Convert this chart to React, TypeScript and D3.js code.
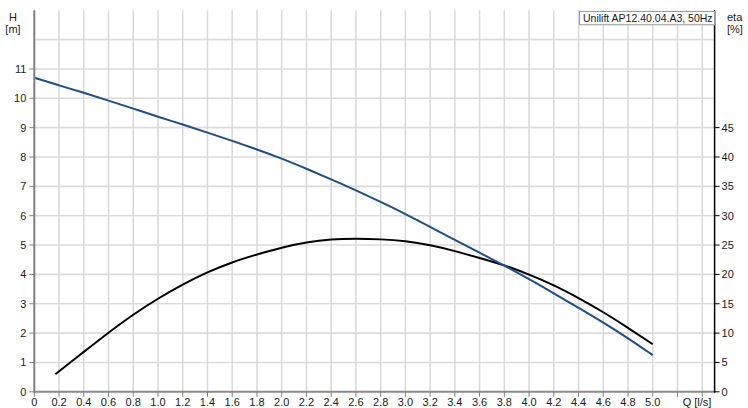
import * as d3 from "d3";

const W = 748;
const H = 408;

// flow [l/s]
const qHead = [0, 0.2, 0.4, 0.6, 0.8, 1.0, 1.2, 1.4, 1.6, 1.8, 2.0, 2.2, 2.4, 2.6, 2.8, 3.0, 3.2, 3.4, 3.6, 3.8, 4.0, 4.2, 4.4, 4.6, 4.8, 5.0];
// head [m]
const head = [10.7, 10.44, 10.19, 9.92, 9.65, 9.37, 9.11, 8.83, 8.55, 8.26, 7.95, 7.6, 7.24, 6.87, 6.47, 6.06, 5.62, 5.17, 4.74, 4.3, 3.84, 3.36, 2.86, 2.36, 1.83, 1.25];

const qEta = [0.17, 0.4, 0.6, 0.8, 1.0, 1.2, 1.4, 1.6, 1.8, 2.0, 2.2, 2.4, 2.6, 2.8, 3.0, 3.2, 3.4, 3.6, 3.8, 4.0, 4.2, 4.4, 4.6, 4.8, 5.0];
// efficiency [%]
const eta = [3.0, 6.8, 10.1, 13.2, 15.9, 18.3, 20.4, 22.1, 23.4, 24.6, 25.5, 26.0, 26.1, 26.0, 25.7, 25.0, 24.0, 22.8, 21.6, 20.0, 18.2, 16.0, 13.6, 10.9, 8.1];

const xTicks = d3.range(0, 28).map((i) => +(i * 0.2).toFixed(1)); // 0 .. 5.4
const xLabels = xTicks.filter((v) => v <= 5.0);
const hTicks = d3.range(0, 12); // 0..11
const hGrid = d3.range(1, 13);
const etaTicks = d3.range(0, 50, 5); // 0..45

const pumpName = "Unilift AP12.40.04.A3, 50Hz";

const FONT = "'Liberation Sans', Arial, sans-serif";
const TEXT = "#1a1a1a";

export default function App() {
  const left = 34.3;
  const right = 714.6;
  const bottom = 391.8;
  const top = bottom - 13 * 29.35;

  const x = d3.scaleLinear().domain([0, 5.5]).range([left, right]);
  const yH = d3.scaleLinear().domain([0, 13]).range([bottom, top]);
  const yEta = d3.scaleLinear().domain([0, 65]).range([bottom, top]);

  // smooth through the read-off points
  const headLine = d3
    .line<number>()
    .x((_, i) => x(qHead[i]))
    .y((d) => yH(d))
    .curve(d3.curveBasis)(head);
  const etaLine = d3
    .line<number>()
    .x((_, i) => x(qEta[i]))
    .y((d) => yEta(d))
    .curve(d3.curveBasis)(eta);

  return (
    <svg
      width={W}
      height={H}
      viewBox={`0 0 ${W} ${H}`}
      style={{ position: "absolute", left: 0, top: 0, background: "#fff" }}
      fontFamily={FONT}
    >
      {/* grid */}
      <g stroke="#dadada" strokeWidth={1.6}>
        {xTicks
          .filter((v) => v > 0)
          .map((v) => (
            <line key={"gx" + v} x1={x(v)} x2={x(v)} y1={top} y2={bottom} />
          ))}
        {hGrid.map((v) => (
          <line key={"gy" + v} x1={left} x2={right} y1={yH(v)} y2={yH(v)} />
        ))}
      </g>

      {/* curves */}
      <path d={etaLine ?? ""} fill="none" stroke="#000" strokeWidth={2} />
      <path d={headLine ?? ""} fill="none" stroke="#1b4f8a" strokeWidth={2} />

      {/* left axis */}
      <line x1={left} x2={left} y1={top} y2={bottom + 1} stroke="#7f7f7f" strokeWidth={2} />
      {hTicks.map((v) => (
        <g key={"h" + v}>
          <line x1={left - 5} x2={left} y1={yH(v)} y2={yH(v)} stroke="#7f7f7f" strokeWidth={1} />
          <text x={left - 8} y={yH(v) + 4} textAnchor="end" fontSize={11} fill={TEXT}>
            {v}
          </text>
        </g>
      ))}
      <text x={13} y={20.5} textAnchor="middle" fontSize={11} fill={TEXT}>H</text>
      <text x={13} y={33} textAnchor="middle" fontSize={11} fill={TEXT}>[m]</text>

      {/* bottom axis */}
      <line x1={left} x2={right} y1={bottom} y2={bottom} stroke="#8a8a8a" strokeWidth={2} />
      {xTicks.map((v) => (
        <line key={"xt" + v} x1={x(v)} x2={x(v)} y1={bottom} y2={bottom + 5} stroke="#7f7f7f" strokeWidth={1} />
      ))}
      {xLabels.map((v) => (
        <text key={"xl" + v} x={x(v)} y={406} textAnchor="middle" fontSize={11} fill={TEXT}>
          {v.toFixed(v === 0 ? 0 : 1)}
        </text>
      ))}
      <text x={697} y={406} textAnchor="middle" fontSize={11} fill={TEXT}>Q [l/s]</text>

      {/* right axis */}
      <line x1={right} x2={right} y1={top} y2={bottom + 1} stroke="#000" strokeWidth={1.5} />
      {etaTicks.map((v) => (
        <g key={"e" + v}>
          <line x1={right} x2={right + 5} y1={yEta(v)} y2={yEta(v)} stroke="#000" strokeWidth={1} />
          <text x={right + 7} y={yEta(v) + 4} textAnchor="start" fontSize={11} fill={TEXT}>
            {v}
          </text>
        </g>
      ))}
      <text x={727} y={20.5} fontSize={11} fill={TEXT}>eta</text>
      <text x={727} y={33} fontSize={11} fill={TEXT}>[%]</text>

      {/* legend box */}
      <rect x={579.5} y={11.5} width={right - 579.5} height={13} fill="#fff" stroke="#9a9a9a" strokeWidth={1} />
      <line x1={580} x2={right} y1={25} y2={25} stroke="#c8c8c8" strokeWidth={1} />
      <text x={583} y={22} fontSize={10.5} fill={TEXT}>{pumpName}</text>
    </svg>
  );
}
